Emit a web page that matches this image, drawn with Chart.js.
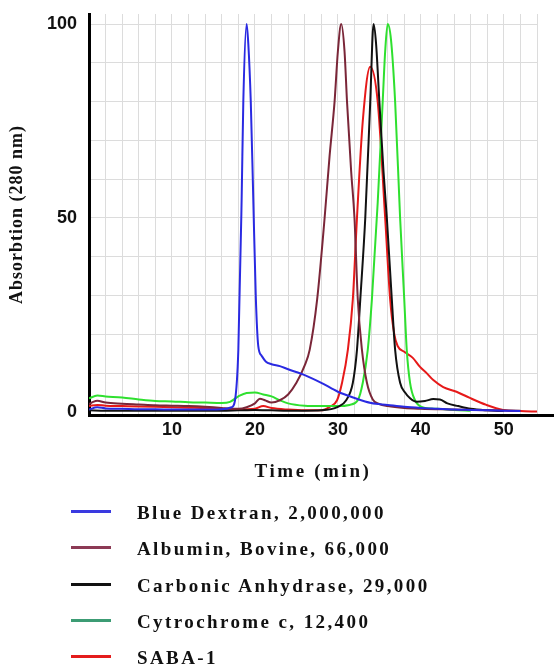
<!DOCTYPE html>
<html>
<head>
<meta charset="utf-8">
<title>Gel filtration standards</title>
<script src="https://cdn.jsdelivr.net/npm/chart.js@4.4.1/dist/chart.umd.min.js"></script>
<style>
  body { margin: 0; background: #fff; }
  #wrap { position: relative; width: 554px; height: 667px; }
  #legend { position: absolute; left: 0; top: 0; width: 554px; height: 667px; pointer-events: none; }
  .item { position: absolute; left: 0; width: 554px; height: 36px; }
  .item .swatch { position: absolute; left: 71px; top: 17px; width: 40px; height: 3px; }
  .item .label {
    position: absolute; left: 137px; top: 9px; line-height: 36px;
    font: bold 19px 'Liberation Serif', 'Times New Roman', serif;
    letter-spacing: 2.4px; color: #111; white-space: nowrap;
  }
</style>
</head>
<body>
<div id="wrap">
  <canvas id="chart" width="554" height="490"></canvas>
  <div id="legend"></div>
</div>
<script>
// Series names (legend order)
const seriesNames = ['Blue Dextran, 2,000,000', 'Albumin, Bovine, 66,000', 'Carbonic Anhydrase, 29,000', 'Cytrochrome c, 12,400', 'SABA-1'];

// Tick labels
const xTickLabels = [10, 20, 30, 40, 50];
const yTickLabels = [0, 50, 100];

// Blue Dextran, 2,000,000
const blueTime = [0, 1, 2, 4, 6, 8, 10, 12, 14, 16, 17.2, 17.6, 18, 18.4, 18.6, 19, 19.2, 19.5, 19.8, 20.1, 20.4, 20.8, 21.3, 22, 23, 24, 26, 28, 30, 32, 34, 36, 38, 40, 42, 44, 46, 48, 50, 52];
const blueAbs  = [0.6, 1.2, 0.9, 0.8, 0.7, 0.7, 0.6, 0.6, 0.6, 0.7, 1.2, 3, 16, 55, 80, 100, 95, 80, 55, 30, 17, 14.5, 13, 12.3, 11.8, 11, 9.5, 7.5, 5.2, 3.6, 2.3, 1.8, 1.3, 1.0, 0.8, 0.6, 0.5, 0.4, 0.3, 0.2];

// Albumin, Bovine, 66,000
const albuminTime = [0, 0.5, 1, 2, 4, 6, 8, 10, 12, 14, 16, 17, 18, 19, 20, 20.6, 21.2, 22, 23, 24, 25, 26, 26.6, 27.5, 28.4, 29, 29.6, 30, 30.4, 30.8, 31.1, 31.6, 32, 32.4, 32.9, 33.5, 34.2, 35, 36, 38, 40, 44, 48, 52];
const albuminAbs  = [2, 2.6, 2.9, 2.4, 2.1, 1.9, 1.7, 1.6, 1.5, 1.3, 1.0, 0.8, 0.8, 1.2, 2.2, 3.4, 3.0, 2.4, 3, 4.5, 7.5, 12, 16, 29, 50, 66, 80, 93, 100, 93, 80, 62, 50, 29, 16, 7.5, 3.2, 2, 1.5, 1, 0.8, 0.6, 0.4, 0.3];

// Carbonic Anhydrase, 29,000
const carbonicTime = [0, 2, 4, 6, 8, 10, 12, 14, 16, 18, 20, 22, 24, 26, 28, 30, 31, 31.8, 32.3, 32.7, 33.3, 33.9, 34.3, 34.6, 35, 35.5, 35.9, 36.5, 36.9, 37.5, 38.1, 38.7, 39.5, 40.5, 41.5, 42.3, 43.2, 44.5, 46, 48, 50];
const carbonicAbs  = [0.4, 0.3, 0.3, 0.3, 0.3, 0.3, 0.3, 0.3, 0.3, 0.4, 0.5, 0.4, 0.3, 0.3, 0.4, 1.3, 3, 7.5, 16, 29, 50, 80, 100, 95, 80, 62, 50, 29, 16, 7.5, 5, 3.5, 2.6, 2.8, 3.3, 3.2, 2.2, 1.5, 0.8, 0.4, 0.2];

// Cytrochrome c, 12,400
const cytochromeTime = [0, 1, 2, 4, 6, 8, 10, 12, 14, 16, 17, 18, 19, 20, 21, 22, 23, 24, 26, 28, 30, 31.4, 32.4, 33, 33.6, 34.1, 34.8, 35.4, 35.7, 36, 36.4, 36.9, 37.5, 38.0, 38.3, 38.7, 39.3, 40.1, 42, 44, 46];
const cytochromeAbs  = [3.5, 4.2, 4, 3.7, 3.2, 2.8, 2.7, 2.5, 2.4, 2.3, 2.6, 4, 4.9, 5, 4.5, 4, 3, 2.2, 1.6, 1.5, 1.5, 1.8, 3, 7.5, 16, 29, 54, 80, 93, 100, 96, 80, 50, 29, 16, 7.5, 3, 1.3, 0.8, 0.5, 0.3];

// SABA-1
const sabaTime = [0, 1, 2, 4, 6, 8, 10, 12, 14, 16, 18, 20, 21, 22, 24, 26, 28, 29, 29.9, 30.5, 31.2, 31.8, 32.3, 33, 33.9, 34.8, 35.7, 36.3, 36.8, 37.2, 38, 39, 39.9, 40.7, 41.5, 42.7, 44.3, 45.9, 47.9, 49.9, 52, 54];
const sabaAbs  = [1.5, 1.8, 1.6, 1.5, 1.4, 1.3, 1.2, 1.1, 1, 0.8, 0.6, 0.8, 1.5, 1, 0.6, 0.4, 0.4, 1.3, 3, 7.5, 16, 29, 50, 75, 89, 80, 50, 29, 20, 17, 15.5, 14, 11.6, 10, 8.2, 6.4, 5.2, 3.6, 1.8, 0.5, 0.2, 0.1];

// Colours
const lineColors   = ['#2a2ae2', '#7a2638', '#111111', '#2fe02f', '#e61919'];
const legendColors = ['#3a3ae0', '#8c3a55', '#111111', '#3c9c74', '#e41c1c'];

const seriesTimes = [blueTime, albuminTime, carbonicTime, cytochromeTime, sabaTime];
const seriesAbs = [blueAbs, albuminAbs, carbonicAbs, cytochromeAbs, sabaAbs];

const datasets = seriesNames.map(function(name, i) {
    return {
        label: name,
        data: seriesTimes[i].map(function(t, j) { return { x: t, y: seriesAbs[i][j] }; }),
        borderColor: lineColors[i],
        backgroundColor: lineColors[i],
        borderWidth: 2,
        pointRadius: 0,
        fill: false,
        cubicInterpolationMode: 'monotone'
    };
});

// letter-spaced axis titles
const titleSpacing = {
    id: 'titleSpacing',
    afterLayout(chart) {
        [['x', '2.6px'], ['y', '1px']].forEach(function(pair) {
            const scale = chart.scales[pair[0]];
            if (scale._spaced) return;
            const orig = scale.drawTitle;
            scale.drawTitle = function() {
                this.ctx.save();
                this.ctx.letterSpacing = pair[1];
                orig.apply(this, arguments);
                this.ctx.restore();
            };
            scale._spaced = true;
        });
    }
};

// x axis line runs on past the grid to the edge
const axisExtend = {
    id: 'axisExtend',
    afterDraw(chart) {
        const ctx = chart.ctx;
        const area = chart.chartArea;
        const y = Math.round(area.bottom - 1.5) + 1.5;
        ctx.save();
        ctx.strokeStyle = '#000';
        ctx.lineWidth = 3;
        ctx.beginPath();
        ctx.moveTo(area.right - 1, y);
        ctx.lineTo(chart.width, y);
        ctx.stroke();
        ctx.restore();
    }
};

const tickFont = { family: "'Liberation Sans', Arial, sans-serif", size: 18, weight: 'bold' };
const titleFont = { family: "'Liberation Serif', 'Times New Roman', serif", size: 19, weight: 'bold' };

new Chart(document.getElementById('chart'), {
    type: 'line',
    data: { datasets: datasets },
    plugins: [titleSpacing, axisExtend],
    options: {
        responsive: false,
        animation: false,
        devicePixelRatio: 1,
        layout: { padding: { top: 14, right: 17, left: 0, bottom: 0 } },
        plugins: {
            legend: { display: false },
            tooltip: { enabled: false }
        },
        scales: {
            x: {
                type: 'linear',
                min: 0,
                max: 54,
                grid: {
                    drawTicks: false,
                    color: function(ctx) { return ctx.tick && ctx.tick.value === 0 ? 'rgba(0,0,0,0)' : '#dcdcdc'; },
                    lineWidth: 1
                },
                border: { color: '#000', width: 3 },
                ticks: {
                    stepSize: 2,
                    includeBounds: false,
                    autoSkip: false,
                    maxRotation: 0,
                    padding: 4,
                    color: '#111',
                    font: tickFont,
                    callback: function(value) { return xTickLabels.includes(value) ? String(value) : ''; }
                },
                title: {
                    display: true,
                    text: 'Time (min)',
                    color: '#111',
                    font: titleFont,
                    padding: { top: 0, bottom: 7 }
                },
                afterFit: function(scale) {
                    scale.height = 75;
                    scale.paddingLeft = 0;
                    scale.paddingRight = 0;
                }
            },
            y: {
                min: -0.8,
                max: 102.6,
                grid: {
                    drawTicks: false,
                    color: function(ctx) { return ctx.tick && ctx.tick.value === 0 ? 'rgba(0,0,0,0)' : '#dcdcdc'; },
                    lineWidth: 1
                },
                border: { color: '#000', width: 3 },
                ticks: {
                    stepSize: 10,
                    includeBounds: false,
                    autoSkip: false,
                    padding: 12,
                    color: '#111',
                    font: tickFont,
                    callback: function(value) { return yTickLabels.includes(value) ? String(value) : ''; }
                },
                title: {
                    display: true,
                    text: 'Absorbtion (280 nm)',
                    color: '#111',
                    font: { family: "'Liberation Serif', 'Times New Roman', serif", size: 18, weight: 'bold' },
                    padding: { top: 7, bottom: 0 }
                },
                afterFit: function(scale) {
                    scale.width = 89;
                    scale.paddingTop = 0;
                    scale.paddingBottom = 0;
                }
            }
        }
    }
});

// HTML legend built from the series arrays
const legendEl = document.getElementById('legend');
seriesNames.forEach(function(name, i) {
    const item = document.createElement('div');
    item.className = 'item';
    item.style.top = (493 + i * 36.25) + 'px';
    const swatch = document.createElement('div');
    swatch.className = 'swatch';
    swatch.style.background = legendColors[i];
    const label = document.createElement('div');
    label.className = 'label';
    label.textContent = name;
    item.appendChild(swatch);
    item.appendChild(label);
    legendEl.appendChild(item);
});
</script>
</body>
</html>
